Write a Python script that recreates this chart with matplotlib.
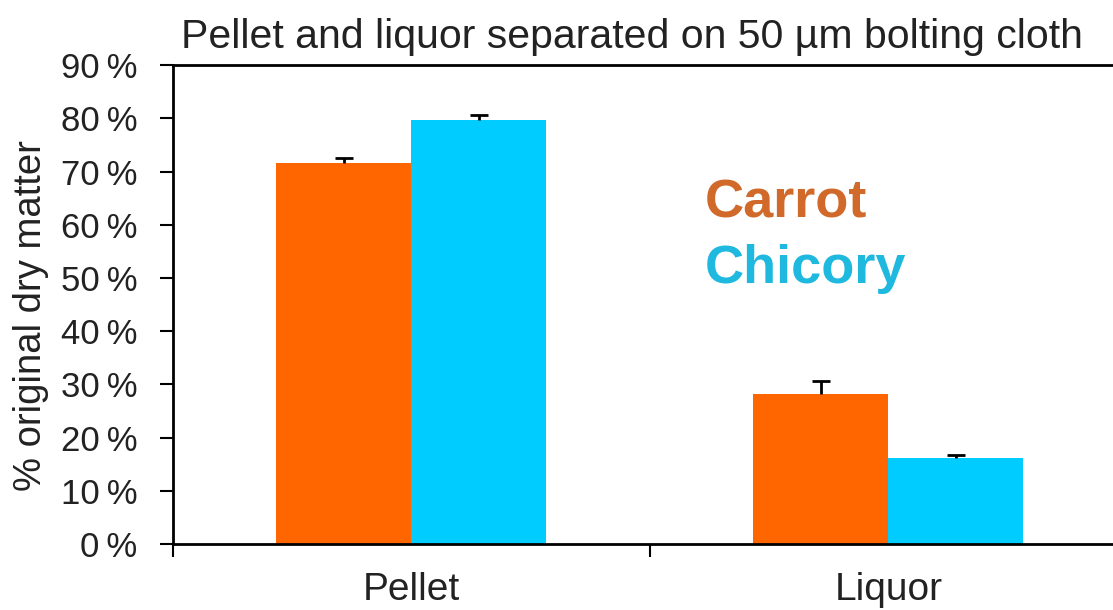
import numpy as np
import matplotlib
matplotlib.use("Agg")
import matplotlib.pyplot as plt

# datos
categorias = ["Pellet", "Liquor"]
carrot = [71.6, 28.3]
chicory = [79.6, 16.1]
err_carrot = [1.0, 2.4]
err_chicory = [1.0, 0.7]
ticks_y = [0, 10, 20, 30, 40, 50, 60, 70, 80, 90]

plt.rcParams['font.family'] = ['Liberation Sans', 'DejaVu Sans']

fig = plt.figure(figsize=(11.13, 6.10), dpi=100)
ax = fig.add_axes([0.1554, 0.108, 0.857, 0.7852])

x = np.arange(len(categorias))
ancho = 0.283
ax.bar(x - ancho / 2, carrot, ancho, color='#FF6600', zorder=2)
ax.bar(x + ancho / 2, chicory, ancho, color='#00CCFF', zorder=2)

# barras de error solo hacia arriba, con un solo remate (forma de T)
for pos, val, err in [(x - ancho / 2, carrot, err_carrot), (x + ancho / 2, chicory, err_chicory)]:
    val = np.array(val)
    err = np.array(err)
    ax.vlines(pos, val, val + err, color='black', linewidth=2, zorder=3)
    ax.plot(pos, val + err, linestyle='none', marker='_', markersize=13,
            markeredgewidth=2, color='black', zorder=3)

ax.set_xlim(-0.5, 1.5)
ax.set_ylim(0, 90)
ax.set_yticks(ticks_y)
ax.set_yticklabels([f"{t}\u2009%" for t in ticks_y], fontsize=25, color='#222222')
ax.tick_params(axis='y', direction='out', length=9.5, width=1.5, pad=16)

ax.set_xticks(x)
ax.set_xticklabels(categorias, fontsize=28, color='#222222')
ax.tick_params(axis='x', which='major', length=0, pad=20)
ax.set_xticks([-0.5, 0.5, 1.5], minor=True)
ax.tick_params(axis='x', which='minor', direction='out', length=9.5, width=1.5)

for lado in ['left', 'bottom', 'top']:
    ax.spines[lado].set_linewidth(2)
ax.spines['right'].set_visible(False)

# etiqueta del eje y colocada a mano
fig.text(31 / 1113, 1 - 316 / 610, "% original dry matter", rotation=90,
         ha='center', va='center', fontsize=27.5, color='#222222')

fig.text(632 / 1113, 1 - 48 / 610, "Pellet and liquor separated on 50 µm bolting cloth",
         ha='center', va='baseline', fontsize=29.5, color='#222222')

fig.text(705 / 1113, 1 - 217 / 610, "Carrot", ha='left', va='baseline',
         fontsize=39, fontweight='bold', color='#D0692A')
fig.text(705 / 1113, 1 - 283 / 610, "Chicory", ha='left', va='baseline',
         fontsize=39, fontweight='bold', color='#1FB8DE')

fig.savefig("out.png", dpi=100)
